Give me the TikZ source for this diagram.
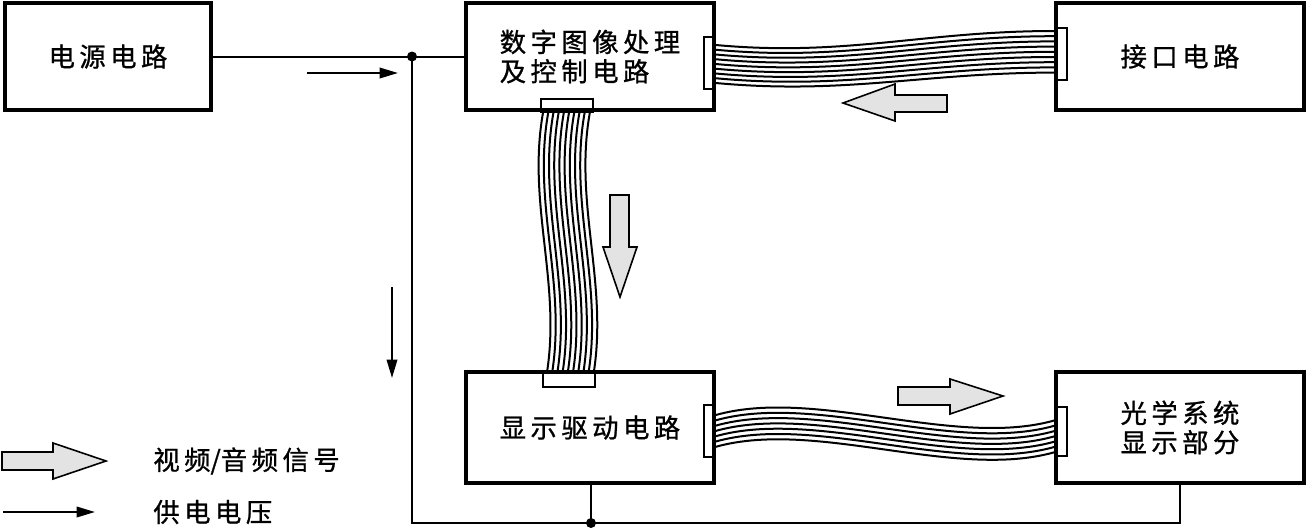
\documentclass[tikz,border=0pt]{standalone}
\usepackage{fontspec}
\setmainfont{Noto Sans CJK SC}
\usetikzlibrary{arrows.meta,calc}
\newdimen\pxu \pxu=0.02cm
\newcommand\lblfont{\fontsize{15pt}{16.7pt}\selectfont\addfontfeature{LetterSpace=17,FakeBold=0.9}}
\begin{document}
\begin{tikzpicture}[x=0.02cm,y=-0.02cm,
  blk/.style={draw, line width=4\pxu, minimum width=248\pxu, minimum height=107\pxu, align=center, inner sep=0pt, font=\lblfont},
  plug/.style={draw, line width=1.6\pxu, fill=white, inner sep=0pt},
  wire/.style={line width=2\pxu},
  pline/.style={line width=2\pxu},
  fatarrow/.style={draw, line width=1.6\pxu, fill=gray!22, line join=miter},
  parr/.style={pline, -{Triangle[length=10.5pt,width=6pt]}},
  legtext/.style={anchor=west, inner sep=0pt, font=\lblfont}
]
\useasboundingbox (0,0) rectangle (1308,531);

% connectors (plugs)
\node[plug, minimum width=11\pxu, minimum height=52\pxu] (pBr) at (709.5,63) {};
\node[plug, minimum width=12\pxu, minimum height=52\pxu] (pCl) at (1061,54) {};
\node[plug, minimum width=52\pxu, minimum height=13\pxu] (pBb) at (567,105.5) {};
\node[plug, minimum width=52\pxu, minimum height=14\pxu] (pDt) at (569,380) {};
\node[plug, minimum width=11\pxu, minimum height=52\pxu] (pDr) at (709.5,431) {};
\node[plug, minimum width=12\pxu, minimum height=49\pxu] (pEl) at (1061,431.5) {};

% boxes
\node[blk, minimum width=206\pxu] (A) at (108,56.5) {电源电路};
\node[blk, align=left] (B) at (590,56.5) {数字图像处理\\及控制电路};
\node[blk] (C) at (1180,56.5) {接口电路};
\node[blk, minimum height=111\pxu] (D) at (590,427.5) {显示驱动电路};
\node[blk, minimum height=111\pxu] (E) at (1180,427.5) {光学系统\\显示部分};

% cables
\foreach \i in {0,...,8}
  \draw[wire] ($(pBr.east)+(0,-18+4.75*\i)$) .. controls +(130,12) and +(-130,0) .. ($(pCl.west)+(0,-23+5.2*\i)$);
\foreach \i in {0,...,9}
  \draw[wire] ($(pBb.south)+(-24+5.2*\i,0)$) .. controls +(-16,90) and +(14,-90) .. ($(pDt.north)+(-22+5.2*\i,0)$);
\foreach \i in {0,...,6}
  \draw[wire] ($(pDr.east)+(0,-16+5.3*\i)$) .. controls +(100,-28) and +(-100,28) .. ($(pEl.west)+(0,-11+5.3*\i)$);

% power supply lines
\coordinate (j1) at (412,56.5);
\coordinate (j2) at (591,523);
\draw[pline] (A.east) -- (j1) -- (B.west);
\draw[pline] (j1) |- (j2) -| (E.south);
\draw[pline] (j2) -- (j2 |- D.south);
\fill (j1) circle[radius=5\pxu];
\fill (j2) circle[radius=5\pxu];

% thin arrows
\coordinate (a1s) at (307,73);  \coordinate (a1e) at (398,73);
\coordinate (a2s) at (392,287); \coordinate (a2e) at (392,378);
\coordinate (a3s) at (3,512);   \coordinate (a3e) at (95,512);
\draw[parr] (a1s) -- (a1e);
\draw[parr] (a2s) -- (a2e);
\draw[parr] (a3s) -- (a3e);

% hollow signal arrows
\draw[fatarrow] (947,95) -- (895,95) -- (895,84) -- (843,103) -- (895,121) -- (895,112) -- (947,112) -- cycle;
\draw[fatarrow] (610,195) -- (629,195) -- (629,247) -- (637,247) -- (620,297) -- (603,247) -- (610,247) -- cycle;
\draw[fatarrow] (898,387) -- (950,387) -- (950,379) -- (1003,396) -- (950,414) -- (950,405) -- (898,405) -- cycle;
\draw[fatarrow] (2,452) -- (53,452) -- (53,443) -- (106,461) -- (53,479) -- (53,470) -- (2,470) -- cycle;

% legend
\node[legtext] (L1) at (153,461) {视频{\addfontfeature{LetterSpace=0}/}音频信号};
\node[legtext] (L2) at (153,512) {供电电压};
\end{tikzpicture}
\end{document}
